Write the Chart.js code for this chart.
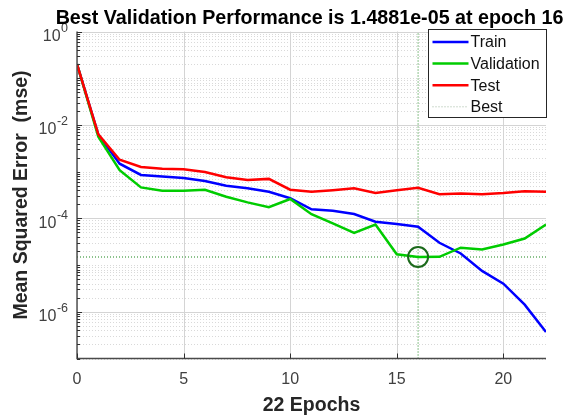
<!DOCTYPE html>
<html>
<head>
<meta charset="utf-8">
<script src="https://cdn.jsdelivr.net/npm/chart.js@4.4.1/dist/chart.umd.min.js"></script>
<style>
  html, body { margin: 0; padding: 0; background: #ffffff; }
  canvas { display: block; }
</style>
</head>
<body>
<canvas id="perf" width="570" height="419"></canvas>
<script>
// Training record: mean squared error per epoch
const epochs = [0, 1, 2, 3, 4, 5, 6, 7, 8, 9, 10, 11, 12, 13, 14, 15, 16, 17, 18, 19, 20, 21, 22];
const trainPerf = [0.2, 6.2e-3, 1.48e-3, 8.5e-4, 7.9e-4, 7.3e-4, 6.3e-4, 5.0e-4, 4.4e-4, 3.7e-4, 2.7e-4,
  1.56e-4, 1.45e-4, 1.24e-4, 8.5e-5, 7.6e-5, 6.6e-5, 3.0e-5, 1.77e-5, 7.5e-6, 4.0e-6, 1.42e-6, 3.7e-7];
const valPerf = [0.2, 5.6e-3, 1.07e-3, 4.6e-4, 3.9e-4, 3.9e-4, 4.1e-4, 2.9e-4, 2.2e-4, 1.73e-4, 2.6e-4,
  1.23e-4, 7.8e-5, 4.9e-5, 7.4e-5, 1.7e-5, 1.4881e-5, 1.5e-5, 2.36e-5, 2.15e-5, 2.75e-5, 3.7e-5, 7.4e-5];
const testPerf = [0.2, 6.3e-3, 1.8e-3, 1.26e-3, 1.15e-3, 1.13e-3, 9.8e-4, 7.6e-4, 6.6e-4, 7.0e-4, 4.1e-4,
  3.7e-4, 4.0e-4, 4.4e-4, 3.5e-4, 4.0e-4, 4.5e-4, 3.3e-4, 3.4e-4, 3.3e-4, 3.5e-4, 3.8e-4, 3.7e-4];
const bestEpoch = 16;
const bestPerf = 1.4881e-5;

// Axes
const xTickValues = [0, 5, 10, 15, 20];
const yLabelExponents = [0, -2, -4, -6];
const xRange = [0, 22];
const yRange = [1e-7, 1];
const legendNames = ['Train', 'Validation', 'Test', 'Best'];

const FONT = "'Liberation Sans', Arial, Helvetica, sans-serif";
const C_TRAIN = '#0000ff';
const C_VAL = '#00cc00';
const C_TEST = '#ff0000';
const C_BEST = 'rgba(0,120,0,0.9)';
const C_CIRCLE = '#1b6a1b';
const C_TEXT = '#262626';
const C_TICK = '#404040';

const titleText = 'Best Validation Performance is ' +
  bestPerf.toExponential(4).replace('e-', 'e-0') + ' at epoch ' + bestEpoch;

const pts = (xs, ys) => xs.map((e, i) => ({ x: e, y: ys[i] }));

// MATLAB-style log grid, axis lines, inward ticks, superscript tick labels, legend box, title
const matlabAxes = {
  id: 'matlabAxes',
  beforeDatasetsDraw(chart) {
    const { ctx, chartArea: a, scales: { x, y } } = chart;
    ctx.save();
    ctx.lineWidth = 1;
    const kMin = Math.round(Math.log10(yRange[0]));
    const kMax = Math.round(Math.log10(yRange[1]));
    for (let k = kMin; k <= kMax; k++) {
      for (let m = 1; m <= 9; m++) {
        const v = m * Math.pow(10, k);
        if (v < yRange[0] * 0.999 || v > yRange[1] * 1.001) continue;
        const py = Math.round(y.getPixelForValue(v)) + 0.5;
        const major = m === 1 && yLabelExponents.includes(k);
        ctx.strokeStyle = major ? '#d4d4d4' : '#d9d9d9';
        ctx.setLineDash(major ? [] : [1, 2]);
        ctx.beginPath();
        ctx.moveTo(a.left, py);
        ctx.lineTo(a.right, py);
        ctx.stroke();
      }
    }
    ctx.setLineDash([]);
    ctx.strokeStyle = '#d4d4d4';
    xTickValues.forEach(v => {
      const px = Math.round(x.getPixelForValue(v)) + 0.5;
      ctx.beginPath();
      ctx.moveTo(px, a.top);
      ctx.lineTo(px, a.bottom);
      ctx.stroke();
    });
    ctx.restore();
  },
  afterDatasetsDraw(chart) {
    const { ctx, chartArea: a, scales: { x, y } } = chart;
    ctx.save();
    // axis lines
    ctx.strokeStyle = '#4a4a4a';
    ctx.lineWidth = 1.4;
    ctx.beginPath();
    ctx.moveTo(a.left, a.top);
    ctx.lineTo(a.left, a.bottom);
    ctx.lineTo(a.right, a.bottom);
    ctx.stroke();

    // inward ticks
    ctx.lineWidth = 1;
    ctx.strokeStyle = '#303030';
    xTickValues.forEach(v => {
      const px = Math.round(x.getPixelForValue(v)) + 0.5;
      ctx.beginPath();
      ctx.moveTo(px, a.bottom);
      ctx.lineTo(px, a.bottom - 5);
      ctx.stroke();
    });
    const kMin = Math.round(Math.log10(yRange[0]));
    const kMax = Math.round(Math.log10(yRange[1]));
    for (let k = kMin; k <= kMax; k++) {
      for (let m = 1; m <= 9; m++) {
        const v = m * Math.pow(10, k);
        if (v < yRange[0] * 0.999 || v > yRange[1] * 1.001) continue;
        const py = Math.round(y.getPixelForValue(v)) + 0.5;
        const len = (m === 1 && yLabelExponents.includes(k)) ? 5 : 3;
        ctx.beginPath();
        ctx.moveTo(a.left, py);
        ctx.lineTo(a.left + len, py);
        ctx.stroke();
      }
    }

    // y tick labels: 10 with superscript exponent
    const rightEdge = a.left - 9;
    ctx.fillStyle = C_TICK;
    yLabelExponents.forEach(p => {
      const py = y.getPixelForValue(Math.pow(10, p));
      const sup = String(p);
      ctx.font = `12.5px ${FONT}`;
      const supW = ctx.measureText(sup).width;
      ctx.textAlign = 'left';
      ctx.textBaseline = 'alphabetic';
      ctx.fillText(sup, rightEdge - supW, py + 0.5);
      ctx.font = `16px ${FONT}`;
      ctx.textAlign = 'right';
      ctx.fillText('10', rightEdge - supW - 0.5, py + 9.5);
    });

    // legend box
    const lw = 118, lh = 88;
    const lx = Math.round(a.right - lw) + 0.5;
    const ly = Math.round(a.top - 3) + 0.5;
    ctx.fillStyle = '#ffffff';
    ctx.fillRect(lx, ly, lw, lh);
    ctx.strokeStyle = '#262626';
    ctx.lineWidth = 1;
    ctx.strokeRect(lx, ly, lw, lh);
    const colors = [C_TRAIN, C_VAL, C_TEST, C_BEST];
    ctx.font = `16px ${FONT}`;
    ctx.textAlign = 'left';
    ctx.textBaseline = 'middle';
    legendNames.forEach((name, i) => {
      const ry = ly + 12.5 + i * 21.6;
      ctx.strokeStyle = colors[i];
      if (i === 3) {
        ctx.lineWidth = 1;
        ctx.setLineDash([1, 2]);
        ctx.strokeStyle = '#9fb79f';
      } else {
        ctx.lineWidth = 2.5;
        ctx.setLineDash([]);
      }
      ctx.beginPath();
      ctx.moveTo(lx + 4, ry);
      ctx.lineTo(lx + 40, ry);
      ctx.stroke();
      ctx.setLineDash([]);
      ctx.fillStyle = '#111111';
      ctx.fillText(name, lx + 42, ry + 1);
    });

    // title, centred a little left of the plot centre, at natural width
    ctx.font = `bold 19.7px ${FONT}`;
    ctx.fillStyle = '#000000';
    ctx.textAlign = 'center';
    ctx.textBaseline = 'alphabetic';
    ctx.fillText(titleText, (a.left + a.right) / 2 - 2, 24);
    ctx.restore();
  }
};

new Chart(document.getElementById('perf'), {
  type: 'line',
  data: {
    datasets: [
      {
        label: 'Best',
        data: [{ x: bestEpoch, y: bestPerf }],
        showLine: false,
        pointRadius: 10,
        pointBorderWidth: 2,
        pointBorderColor: C_CIRCLE,
        pointBackgroundColor: 'rgba(0,0,0,0)'
      },
      { label: 'Test', data: pts(epochs, testPerf), borderColor: C_TEST, borderWidth: 2.5, pointRadius: 0, tension: 0 },
      { label: 'Validation', data: pts(epochs, valPerf), borderColor: C_VAL, borderWidth: 2.5, pointRadius: 0, tension: 0 },
      { label: 'Train', data: pts(epochs, trainPerf), borderColor: C_TRAIN, borderWidth: 2.5, pointRadius: 0, tension: 0 },
      {
        label: 'Best epoch',
        data: [{ x: bestEpoch, y: yRange[0] }, { x: bestEpoch, y: yRange[1] }],
        borderColor: C_BEST, borderWidth: 1, borderDash: [1, 2], pointRadius: 0
      },
      {
        label: 'Best performance',
        data: [{ x: xRange[0], y: bestPerf }, { x: xRange[1], y: bestPerf }],
        borderColor: C_BEST, borderWidth: 1, borderDash: [1, 2], pointRadius: 0
      }
    ]
  },
  options: {
    responsive: false,
    animation: false,
    events: [],
    layout: { padding: { left: 0, right: 24, top: 31.5, bottom: 0 } },
    plugins: {
      legend: { display: false },
      tooltip: { enabled: false },
      title: { display: false }
    },
    scales: {
      x: {
        type: 'linear',
        min: xRange[0],
        max: xRange[1],
        afterBuildTicks: s => { s.ticks = xTickValues.map(v => ({ value: v })); },
        afterFit: s => { s.height = 60.5; },
        grid: { display: false, drawTicks: false },
        border: { display: false },
        ticks: { color: C_TICK, font: { family: FONT, size: 16, lineHeight: 1.2 }, padding: 11, maxRotation: 0 },
        title: {
          display: true,
          text: epochs[epochs.length - 1] + ' Epochs',
          color: C_TEXT,
          font: { family: FONT, size: 19.5, weight: 'bold', lineHeight: 1 },
          padding: { top: 0, bottom: 3.5 }
        }
      },
      y: {
        type: 'logarithmic',
        min: yRange[0],
        max: yRange[1],
        afterFit: s => { s.width = 77; },
        grid: { display: false, drawTicks: false },
        border: { display: false },
        ticks: { display: false },
        title: {
          display: true,
          text: 'Mean Squared Error  (mse)',
          color: C_TEXT,
          font: { family: FONT, size: 19.5, weight: 'bold', lineHeight: 1 },
          padding: { top: 12, bottom: 0 }
        }
      }
    }
  },
  plugins: [matlabAxes]
});
</script>
</body>
</html>
